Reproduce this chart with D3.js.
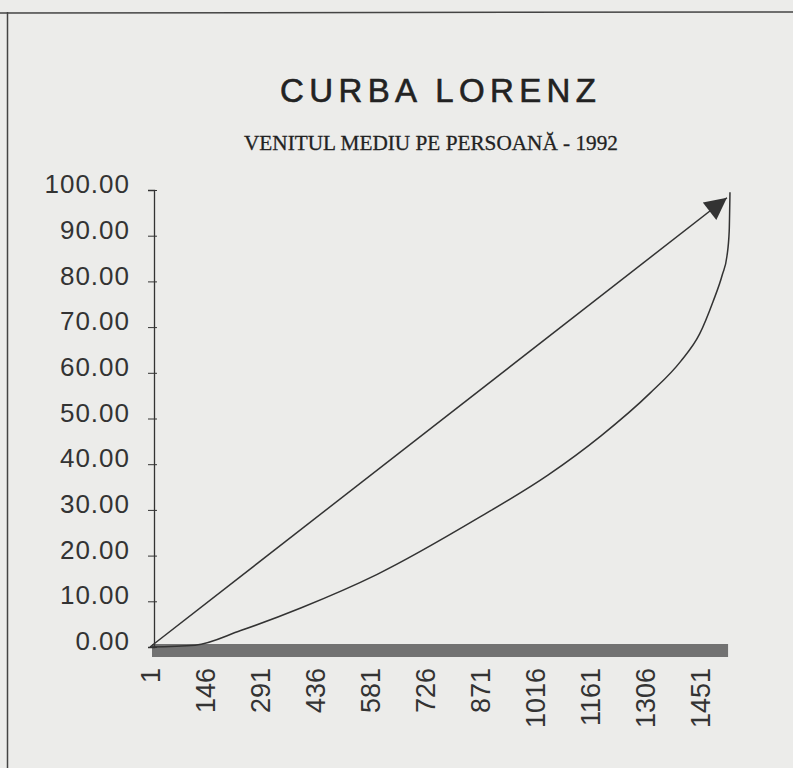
<!DOCTYPE html>
<html>
<head>
<meta charset="utf-8">
<script src="https://cdn.jsdelivr.net/npm/d3@7"></script>
<style>
  body { margin: 0; background: #ececea; }
  svg { display: block; }
</style>
</head>
<body>
<svg id="lorenz" width="793" height="768"></svg>
<script>
// ----------------------- DATA -------------------------------
var title = "CURBA LORENZ";
var subtitle = "VENITUL MEDIU PE PERSOANĂ - 1992";

// households (ordered by income) on x, cumulative income share (%) on y
var households = [1, 120, 240, 400, 600, 870, 1050, 1190, 1320, 1400, 1450, 1485, 1510, 1522, 1528, 1530];
var cumIncome  = [0, 0.4, 3.6, 8.6, 15.9, 28.4, 37.6, 46.2, 55.6, 62.5, 68.5, 75.5, 81.5, 85.5, 91.0, 99.5];

// line of perfect equality (ends in an arrow)
var equalX = [1, 1522];
var equalY = [0, 98.3];

var xTicks = [1, 146, 291, 436, 581, 726, 871, 1016, 1161, 1306, 1451];
var yTicks = [0, 10, 20, 30, 40, 50, 60, 70, 80, 90, 100];
var lastHousehold = 1525;

// ----------------------- CHART -------------------------------
var svg = d3.select("#lorenz");

// scanned page frame
svg.append("line").attr("x1", 0).attr("x2", 793).attr("y1", 13).attr("y2", 12)
    .attr("stroke", "#444").attr("stroke-width", 1.5);
svg.append("line").attr("x1", 7.5).attr("x2", 7.5).attr("y1", 12).attr("y2", 768)
    .attr("stroke", "#444").attr("stroke-width", 1.5);

var x = d3.scaleLinear().domain([1, 1451]).range([150, 700]);
var y = d3.scaleLinear().domain([0, 100]).range([647, 190]);

svg.append("text")
    .attr("x", 280).attr("y", 102)
    .attr("font-family", "Liberation Sans, Arial, sans-serif")
    .attr("font-size", 33)
    .attr("fill", "#222")
    .attr("stroke", "#222")
    .attr("stroke-width", 0.6)
    .attr("textLength", 316)
    .attr("lengthAdjust", "spacing")
    .text(title);

svg.append("text")
    .attr("x", 244).attr("y", 150)
    .attr("font-family", "Liberation Serif, Times New Roman, serif")
    .attr("font-size", 22)
    .attr("fill", "#222")
    .attr("stroke", "#222")
    .attr("stroke-width", 0.3)
    .attr("textLength", 374)
    .attr("lengthAdjust", "spacingAndGlyphs")
    .text(subtitle);

// thick grey base band
svg.append("rect")
    .attr("x", x(1) + 2)
    .attr("y", y(0) - 3)
    .attr("width", x(lastHousehold) - x(1) - 2)
    .attr("height", 13)
    .attr("fill", "#727272");

// y axis
var yAxis = svg.append("g")
    .attr("transform", "translate(154,0)")
    .call(d3.axisLeft(y).tickValues(yTicks).tickSize(6).tickPadding(18)
      .tickFormat(d3.format(".2f")));
yAxis.select(".domain").attr("stroke", "#333").attr("stroke-width", 1.3);
yAxis.selectAll(".tick line").attr("x1", 3).attr("x2", -6).attr("stroke", "#333");
yAxis.selectAll(".tick text")
    .attr("font-family", "Liberation Sans, Arial, sans-serif")
    .attr("font-size", 26)
    .attr("letter-spacing", 1)
    .attr("fill", "#333")
    .attr("dy", "0.1em");

// x axis labels (rotated)
var xAxis = svg.append("g")
    .attr("transform", "translate(0,668)")
    .call(d3.axisBottom(x).tickValues(xTicks).tickSize(0).tickPadding(0)
      .tickFormat(d3.format("d")));
xAxis.select(".domain").remove();
xAxis.selectAll(".tick text")
    .attr("font-family", "Liberation Sans, Arial, sans-serif")
    .attr("font-size", 27)
    .attr("fill", "#333")
    .attr("transform", "rotate(-90)")
    .attr("text-anchor", "end")
    .attr("x", 0)
    .attr("y", 0)
    .attr("dy", "0.35em");

// arrow head for the equality line
svg.append("defs").append("marker")
    .attr("id", "arrow")
    .attr("viewBox", "0 0 10 10")
    .attr("refX", 10).attr("refY", 5)
    .attr("markerWidth", 27).attr("markerHeight", 22)
    .attr("markerUnits", "userSpaceOnUse")
    .attr("orient", "auto")
  .append("path")
    .attr("d", "M0,0L10,5L0,10z")
    .attr("fill", "#333");

var line = d3.line()
    .x(function(d) { return x(d[0]); })
    .y(function(d) { return y(d[1]); });

svg.append("path")
    .datum(d3.zip(equalX, equalY))
    .attr("d", line)
    .attr("fill", "none")
    .attr("stroke", "#333")
    .attr("stroke-width", 1.5)
    .attr("marker-end", "url(#arrow)");

svg.append("path")
    .datum(d3.zip(households, cumIncome))
    .attr("d", line.curve(d3.curveMonotoneX))
    .attr("fill", "none")
    .attr("stroke", "#333")
    .attr("stroke-width", 1.5);
</script>
</body>
</html>
